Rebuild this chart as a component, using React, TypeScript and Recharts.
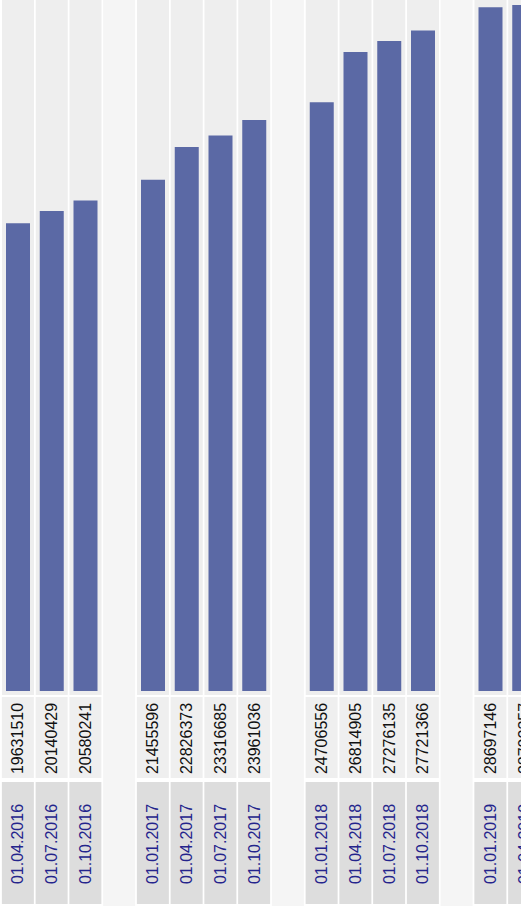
import React from "react";
import { BarChart, Bar, XAxis, YAxis } from "recharts";

// quarterly values, null = spacer column between years
const dates = [
  "01.04.2016", "01.07.2016", "01.10.2016", null,
  "01.01.2017", "01.04.2017", "01.07.2017", "01.10.2017", null,
  "01.01.2018", "01.04.2018", "01.07.2018", "01.10.2018", null,
  "01.01.2019", "01.04.2019",
];
const values = [
  19631510, 20140429, 20580241, null,
  21455596, 22826373, 23316685, 23961036, null,
  24706556, 26814905, 27276135, 27721366, null,
  28697146, 28792357,
];

const W = 541;
const H = 906;
const PLOT_H = 691;
const COL_W = 32;

const BAR = "#5b69a5";
const COL_BG = "#eeeeee";
const GAP_BG = "#f5f5f5";
const VALUE_BG = "#efefef";
const DATE_BG = "#dddddd";
const DATE_COLOR = "#24248c";
const FONT = "'Liberation Sans', Arial, sans-serif";

const data = dates.map((d, i) => ({
  key: d ?? `gap${i}`,
  date: d,
  value: values[i],
}));

function ColumnBg(props: any) {
  const { x, width, y, height } = props;
  const cx = x + width / 2;
  return <rect x={cx - COL_W / 2} y={y} width={COL_W} height={height + 4} fill={COL_BG} />;
}

function CellTick(props: any) {
  const { x, y, index } = props;
  const row = data[index];
  if (!row) return null;
  const left = x - COL_W / 2;
  if (row.date == null) {
    return <rect x={left} y={0} width={COL_W} height={H} fill={GAP_BG} />;
  }
  const vy = y + 47.5;
  const dy = y + 153;
  return (
    <g>
      <rect x={left} y={y + 6} width={COL_W} height={81} fill={VALUE_BG} />
      <rect x={left} y={y + 91} width={COL_W} height={122} fill={DATE_BG} />
      <text
        x={x}
        y={vy}
        transform={`rotate(-90 ${x} ${vy})`}
        textAnchor="middle"
        dominantBaseline="central"
        fontSize={16}
        fontFamily={FONT}
        fill="#111"
      >
        {row.value}
      </text>
      <text
        x={x}
        y={dy}
        transform={`rotate(-90 ${x} ${dy})`}
        textAnchor="middle"
        dominantBaseline="central"
        fontSize={16}
        fontFamily={FONT}
        fill={DATE_COLOR}
      >
        {row.date}
      </text>
    </g>
  );
}

export default function App() {
  return (
    <div
      style={{
        position: "fixed",
        top: 0,
        left: 0,
        width: 521,
        height: 906,
        overflow: "hidden",
        background: "#ffffff",
      }}
    >
      <BarChart
        width={W}
        height={H}
        data={data}
        margin={{ top: 0, right: 0, left: 1, bottom: 0 }}
        barCategoryGap={0}
      >
        <XAxis
          dataKey="key"
          interval={0}
          height={H - PLOT_H}
          tickLine={false}
          axisLine={false}
          tickSize={0}
          tickMargin={0}
          tick={<CellTick />}
        />
        <YAxis hide domain={[0, 29000000]} />
        <Bar
          dataKey="value"
          fill={BAR}
          barSize={24}
          background={<ColumnBg />}
          isAnimationActive={false}
        />
      </BarChart>
    </div>
  );
}
